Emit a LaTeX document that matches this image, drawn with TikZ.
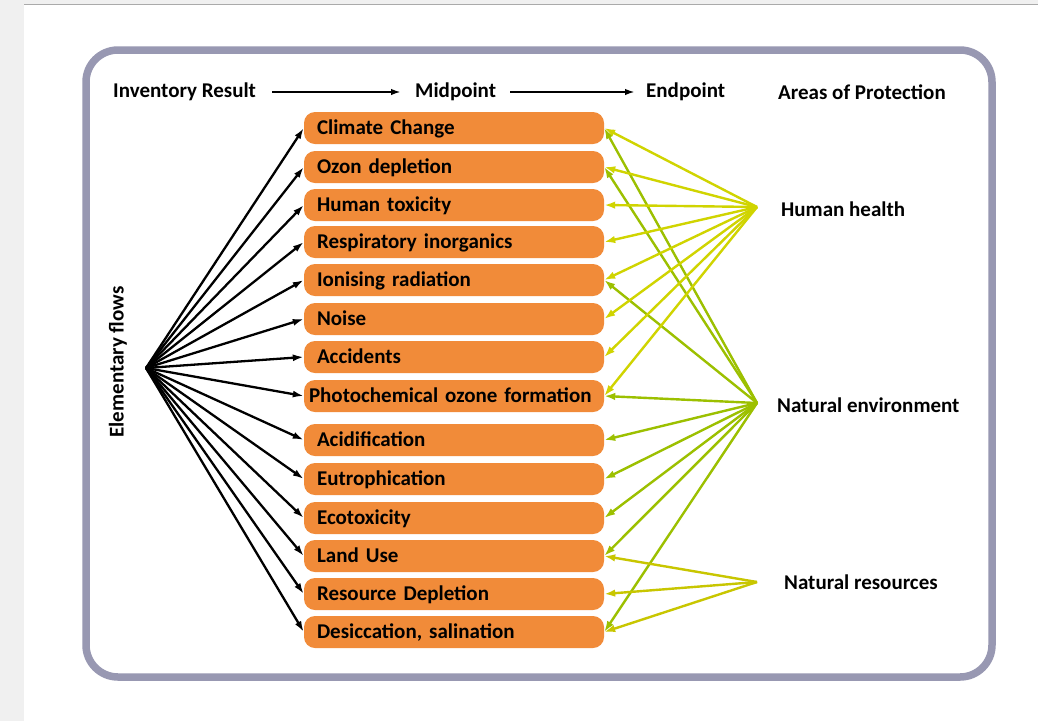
\documentclass[tikz,border=0pt]{standalone}
\usepackage{fontspec}
\setmainfont{Carlito}
\usetikzlibrary{arrows.meta}

\definecolor{pagegray}{RGB}{240,240,240}
\definecolor{edgegray}{RGB}{170,170,170}
\definecolor{framecol}{RGB}{152,152,178}
\definecolor{boxorange}{RGB}{241,139,57}
\definecolor{hhyellow}{RGB}{208,212,0}
\definecolor{nrolive}{RGB}{200,198,0}
\definecolor{negreen}{RGB}{156,192,0}

\tikzset{
  impact/.style={rectangle, rounded corners=11pt, fill=boxorange, draw=none,
    text width=274pt, inner xsep=13pt, inner ysep=0pt, minimum height=32pt,
    text height=16.5pt, text depth=3pt,
    align=left, font=\fontsize{21}{24}\selectfont\bfseries},
  hdr/.style={font=\fontsize{21}{24}\selectfont\bfseries, inner sep=2pt},
  aop/.style={font=\fontsize{21}{24}\selectfont\bfseries, inner sep=0pt, anchor=west},
  hdrarrow/.style={line width=2.2pt, -{Latex[length=10pt,width=6.5pt]}},
  flow/.style={line width=2.3pt, black, -{Latex[length=11pt,width=7pt]}},
  hharrow/.style={line width=2.4pt, hhyellow, -{Latex[length=11pt,width=7.5pt]}},
  nearrow/.style={line width=2.4pt, negreen, -{Latex[length=11pt,width=7.5pt]}},
  nrarrow/.style={line width=2.4pt, nrolive, -{Latex[length=11pt,width=7.5pt]}},
}

\begin{document}
\begin{tikzpicture}[x=1pt,y=-1pt]
\useasboundingbox (0,0) rectangle (1038,721);
% page background
\fill[pagegray] (0,0) rectangle (1038,721);
\fill[white] (24,5) rectangle (1038,721);
\draw[edgegray, line width=1pt] (24,4.5) -- (1038,4.5);

% outer frame
\draw[framecol, line width=7.5pt, rounded corners=32pt] (86,50) rectangle (992,677);

% column headers
\node[hdr, anchor=west] (ir)   at (111,92) {Inventory Result};
\node[hdr, anchor=west] (mid)  at (413,92) {Midpoint};
\node[hdr, anchor=west] (endp) at (644,92) {Endpoint};
\node[hdr, anchor=west] (aprot) at (776,92) {Areas of Protection};
\draw[hdrarrow, shorten <=14pt, shorten >=12pt] (ir.east) -- (mid.west);
\draw[hdrarrow, shorten <=12pt, shorten >=9pt] (mid.east) -- (endp.west);

% midpoint impact categories
\node[impact] (b1)  at (454,128) {Climate Change};
\node[impact] (b2)  at (454,167) {Ozon depletion};
\node[impact] (b3)  at (454,205) {Human toxicity};
\node[impact] (b4)  at (454,242) {Respiratory inorganics};
\node[impact] (b5)  at (454,280) {Ionising radiation};
\node[impact] (b6)  at (454,319) {Noise};
\node[impact] (b7)  at (454,357) {Accidents};
\node[impact, text width=290pt, inner xsep=5pt] (b8) at (454,396) {Photochemical ozone formation};
\node[impact] (b9)  at (454,440) {Acidification};
\node[impact] (b10) at (454,479) {Eutrophication};
\node[impact] (b11) at (454,518) {Ecotoxicity};
\node[impact] (b12) at (454,556) {Land Use};
\node[impact] (b13) at (454,594) {Resource Depletion};
\node[impact] (b14) at (454,632) {Desiccation, salination};

% elementary flows
\node[hdr, rotate=90] (ef) at (118,362) {Elementary flows};
\coordinate (hub) at (146,368);
\foreach \i in {1,...,14} \draw[flow] (hub) -- (b\i.west);

% areas of protection
\coordinate (hh) at (757,207);
\coordinate (ne) at (757,403);
\coordinate (nr) at (757,582);
\node[aop] (hhl) at (781,209) {Human health};
\node[aop] (nel) at (777,405) {Natural environment};
\node[aop] (nrl) at (784,582) {Natural resources};

\foreach \i in {1,2,5,8,9,10,11,12,14} \draw[nearrow] (ne) -- (b\i.east);
\foreach \i in {12,13,14} \draw[nrarrow] (nr) -- (b\i.east);
\foreach \i in {1,...,8} \draw[hharrow] (hh) -- (b\i.east);
\end{tikzpicture}
\end{document}
